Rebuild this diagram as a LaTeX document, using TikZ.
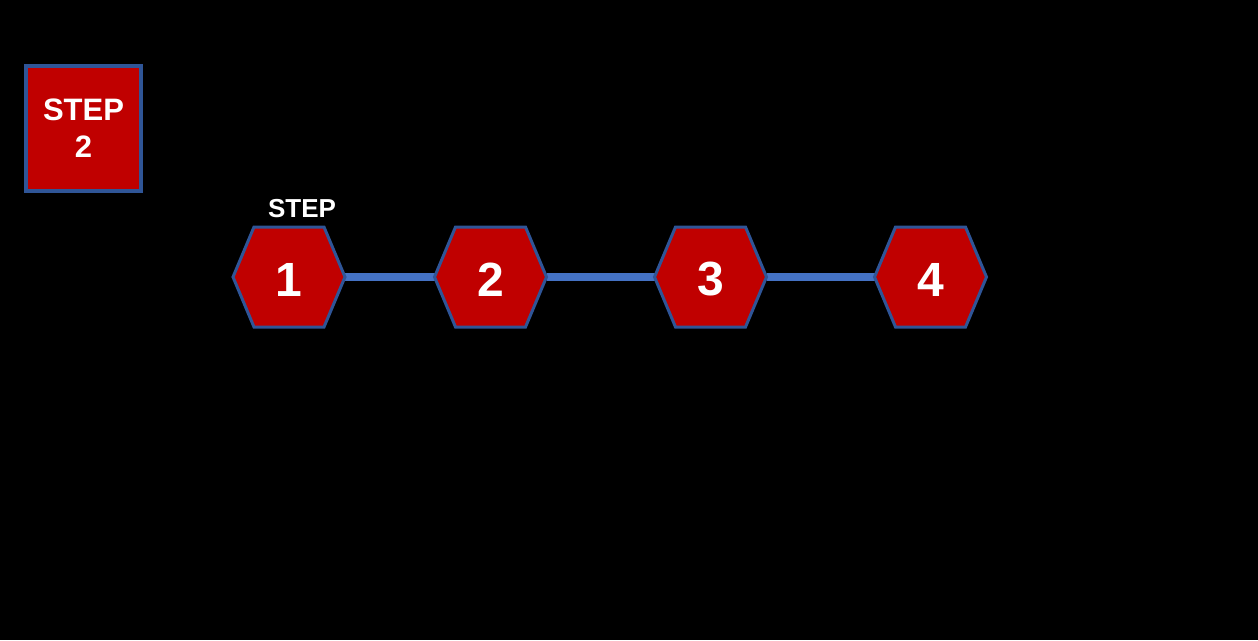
\documentclass[tikz,border=0pt]{standalone}
\usepackage{fontspec}
\setmainfont{Liberation Sans}
\definecolor{stepred}{HTML}{C00000}
\definecolor{hexborder}{HTML}{2F5597}
\definecolor{linkblue}{HTML}{4472C4}
\tikzset{
  hexbox/.style={minimum width=112pt,minimum height=100pt,inner sep=0pt,outer sep=0pt},
  hexshape/.style={fill=stepred,draw=hexborder,line width=3pt,line join=miter},
  hextext/.style={text=white,font=\bfseries\fontsize{48}{50}\selectfont,inner sep=0pt},
  link/.style={draw=linkblue,line width=8pt},
  stepsquare/.style={fill=stepred,draw=hexborder,line width=4pt,minimum width=115pt,minimum height=125pt,inner sep=0pt,align=center,text=white,font=\bfseries\fontsize{31}{38}\selectfont},
  steplabel/.style={text=white,font=\bfseries\fontsize{26}{28}\selectfont,inner sep=0pt}
}
\newcommand\hexpath[1]{%
  \path[hexshape] (#1.west) -- ([xshift=21pt]#1.north west) -- ([xshift=-21pt]#1.north east) -- (#1.east) -- ([xshift=-21pt]#1.south east) -- ([xshift=21pt]#1.south west) -- cycle;}
\begin{document}
\begin{tikzpicture}[x=1pt,y=-1pt]
\fill[black] (0,0) rectangle (1258,640);
\useasboundingbox (0,0) rectangle (1258,640);
\node[stepsquare] (sq) at (83.5,128.5) {STEP\\[-1pt]2};
\node[hexbox] (h1) at (289,277) {};
\node[hexbox] (h2) at (490.5,277) {};
\node[hexbox] (h3) at (710.5,277) {};
\node[hexbox] (h4) at (930.5,277) {};
\draw[link] (h1.east) -- (h2.west);
\draw[link] (h2.east) -- (h3.west);
\draw[link] (h3.east) -- (h4.west);
\hexpath{h1}\hexpath{h2}\hexpath{h3}\hexpath{h4}
\node[hextext] (t1) at ([yshift=-2.5pt]h1.center) {1};
\node[hextext] (t2) at ([yshift=-2.5pt]h2.center) {2};
\node[hextext] (t3) at ([yshift=-2.5pt]h3.center) {3};
\node[hextext] (t4) at ([yshift=-2.5pt]h4.center) {4};
\node[steplabel] (lbl) at (302,209) {STEP};
\end{tikzpicture}
\end{document}
